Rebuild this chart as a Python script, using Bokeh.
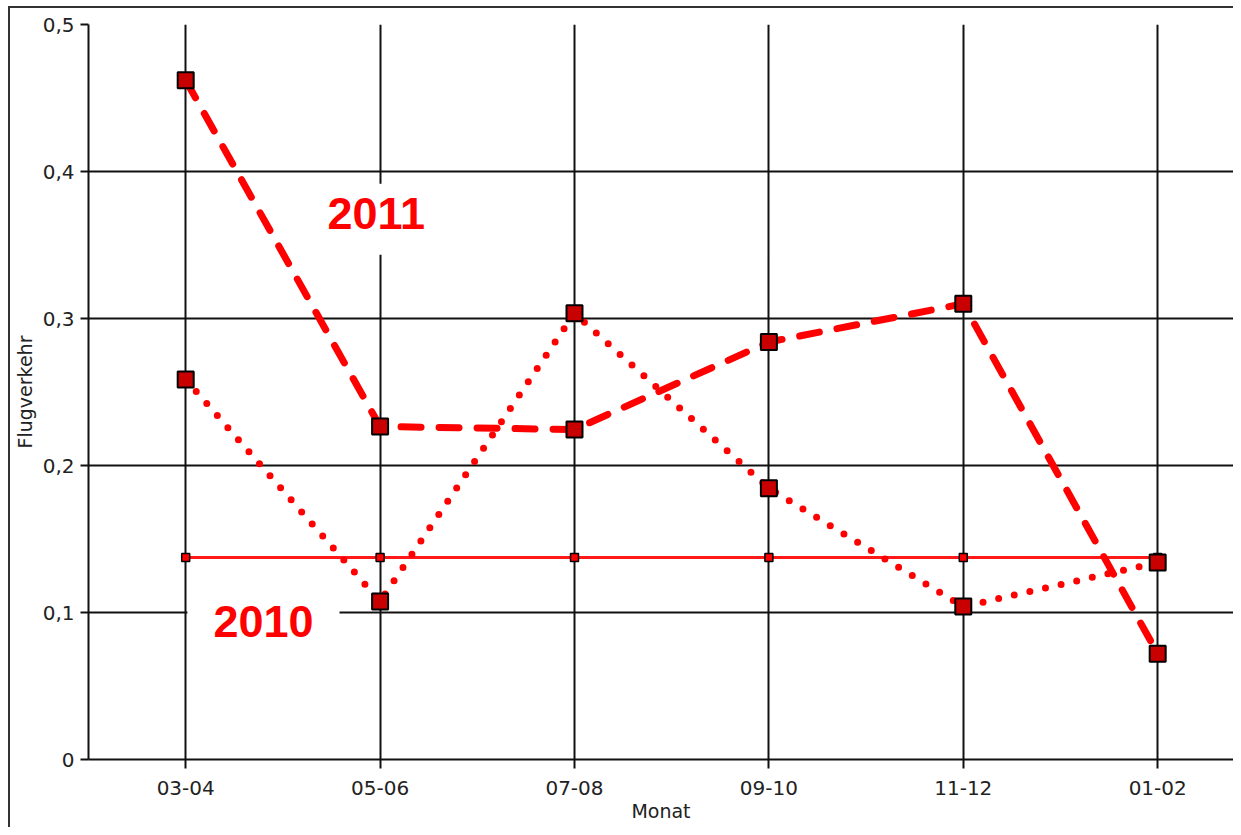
from bokeh.plotting import figure
from bokeh.models import FixedTicker, Label, Range1d, ColumnDataSource
from bokeh.embed import file_html
from bokeh.resources import INLINE

# ---- data ----
categories = ["03-04", "05-06", "07-08", "09-10", "11-12", "01-02"]
series_2011 = [0.462, 0.2265, 0.2245, 0.284, 0.310, 0.072]
series_monthly = [0.2585, 0.1075, 0.3035, 0.1845, 0.104, 0.134]
series_2010 = [0.1375, 0.1375, 0.1375, 0.1375, 0.1375, 0.1375]
y_ticks = [0, 0.1, 0.2, 0.3, 0.4, 0.5]
y_tick_labels = ["0", "0,1", "0,2", "0,3", "0,4", "0,5"]
x_title = "Monat"
y_title = "Flugverkehr"

xs = list(range(len(categories)))
src = ColumnDataSource(dict(x=xs, a=series_2011, b=series_monthly, c=series_2010))

p = figure(width=1233, height=827, output_backend="svg", toolbar_location=None,
           x_range=Range1d(-0.5, 5.39), y_range=Range1d(0, 0.5),
           min_border_left=88, min_border_right=0, min_border_top=24, min_border_bottom=68)
p.outline_line_color = None
p.background_fill_color = "white"
p.border_fill_color = None
p.styles = {"box-shadow": "inset 8px 6px 0 0 #ffffff, inset 10px 8px 0 0 #333333"}

GRID = "#111111"
TICK_FONT = "DejaVu Sans"

# x axis
p.xaxis.ticker = FixedTicker(ticks=xs)
p.xaxis.major_label_overrides = {i: c for i, c in zip(xs, categories)}
p.xaxis.minor_tick_line_color = None
p.xaxis.major_tick_in = 0
p.xaxis.major_tick_out = 9
p.xaxis.major_tick_line_width = 2
p.xaxis.major_tick_line_color = GRID
p.xaxis.axis_line_width = 2
p.xaxis.axis_line_color = GRID
p.xaxis.major_label_text_font = TICK_FONT
p.xaxis.major_label_text_font_size = "20px"
p.xaxis.major_label_text_color = "#222222"
p.xaxis.major_label_standoff = 12
p.xaxis.axis_label = x_title
p.xaxis.axis_label_text_font = TICK_FONT
p.xaxis.axis_label_text_font_size = "19px"
p.xaxis.axis_label_text_font_style = "normal"
p.xaxis.axis_label_text_color = "#222222"
p.xaxis.axis_label_standoff = 2

# y axis
p.yaxis.ticker = FixedTicker(ticks=y_ticks)
p.yaxis.major_label_overrides = {t: l for t, l in zip(y_ticks, y_tick_labels)}
p.yaxis.minor_tick_line_color = None
p.yaxis.major_tick_in = 0
p.yaxis.major_tick_out = 8
p.yaxis.major_tick_line_width = 2
p.yaxis.major_tick_line_color = GRID
p.yaxis.axis_line_width = 2
p.yaxis.axis_line_color = GRID
p.yaxis.major_label_text_font = TICK_FONT
p.yaxis.major_label_text_font_size = "20px"
p.yaxis.major_label_text_color = "#222222"
p.yaxis.major_label_standoff = 6
p.yaxis.axis_label = y_title
p.yaxis.axis_label_text_font = TICK_FONT
p.yaxis.axis_label_text_font_size = "19px"
p.yaxis.axis_label_text_font_style = "normal"
p.yaxis.axis_label_text_color = "#222222"
p.yaxis.axis_label_standoff = 4

# grid
p.xgrid.grid_line_color = GRID
p.xgrid.grid_line_width = 2
p.ygrid.grid_line_color = GRID
p.ygrid.grid_line_width = 2

RED = "#ff0000"
MFILL = "#c80000"

# 2010 solid line with small markers
p.line("x", "c", source=src, line_color=RED, line_width=3, line_alpha=0.9)
p.scatter("x", "c", source=src, marker="square", size=8, fill_color=RED,
          line_color="black", line_width=1.5)

# monthly dotted line
p.line("x", "b", source=src, line_color=RED, line_width=7, line_dash="0 16",
       line_cap="round")
p.scatter("x", "b", source=src, marker="square", size=16, fill_color=MFILL,
          line_color="black", line_width=2)

# 2011 dashed line
p.line("x", "a", source=src, line_color=RED, line_width=7, line_dash="20 18",
       line_cap="round")
p.scatter("x", "a", source=src, marker="square", size=16, fill_color=MFILL,
          line_color="black", line_width=2)

# series annotations
for txt, lx, ly in [("2011", 0.98, 0.3675), ("2010", 0.40, 0.0898)]:
    p.add_layout(Label(x=lx, y=ly, text=txt, text_align="center", text_baseline="middle",
                       text_font="Liberation Sans", text_font_style="bold",
                       text_font_size="45px", text_color=RED,
                       background_fill_color="white", padding=(26, 26, 14, 26)))

open("out.html", "w").write(file_html(p, INLINE))
